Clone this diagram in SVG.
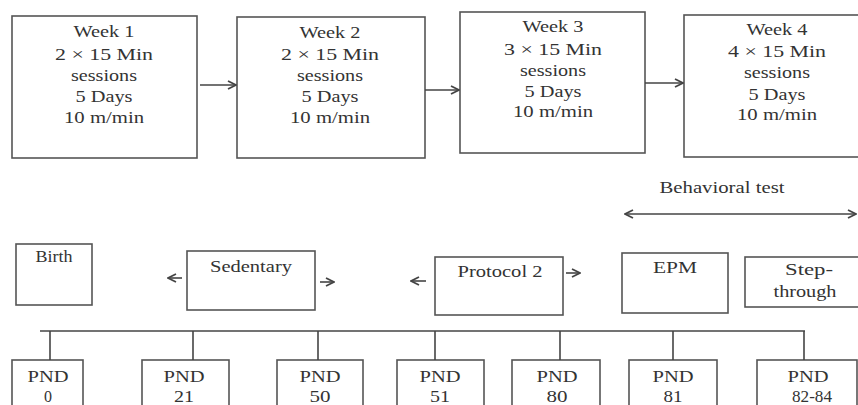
<svg xmlns="http://www.w3.org/2000/svg" width="858" height="405" viewBox="0 0 858 405">
<defs>
<style>
.box{fill:#fff;stroke:#555;stroke-width:1.6}
.t{font-family:"Liberation Serif","Times New Roman",serif;font-size:16px;fill:#333;text-anchor:middle}
.s{font-family:"Liberation Serif","Times New Roman",serif;font-size:16px;fill:#333;text-anchor:middle}
.ln{stroke:#444;stroke-width:1.6;fill:none}
</style>
<marker id="ah" viewBox="0 0 10 10" refX="9" refY="5" markerWidth="10" markerHeight="10" markerUnits="userSpaceOnUse" orient="auto-start-reverse">
<path d="M1,1 L9,5 L1,9" fill="none" stroke="#444" stroke-width="1.8"/>
</marker>
</defs>
<rect width="858" height="405" fill="#fff"/>
<g id="week1"><rect class="box" x="12" y="16" width="185" height="142"/>
<text class="t" x="104" y="37" textLength="61" lengthAdjust="spacingAndGlyphs">Week 1</text><text class="t" x="104" y="60" textLength="98" lengthAdjust="spacingAndGlyphs">2 × 15 Min</text><text class="t" x="104" y="81" textLength="66" lengthAdjust="spacingAndGlyphs">sessions</text><text class="t" x="104" y="102" textLength="57" lengthAdjust="spacingAndGlyphs">5 Days</text><text class="t" x="104" y="123" textLength="80" lengthAdjust="spacingAndGlyphs">10 m/min</text></g>
<g id="week2"><rect class="box" x="237" y="17" width="188" height="141"/>
<text class="t" x="330" y="38" textLength="61" lengthAdjust="spacingAndGlyphs">Week 2</text><text class="t" x="330" y="60" textLength="98" lengthAdjust="spacingAndGlyphs">2 × 15 Min</text><text class="t" x="330" y="81" textLength="66" lengthAdjust="spacingAndGlyphs">sessions</text><text class="t" x="330" y="102" textLength="57" lengthAdjust="spacingAndGlyphs">5 Days</text><text class="t" x="330" y="123" textLength="80" lengthAdjust="spacingAndGlyphs">10 m/min</text></g>
<g id="week3"><rect class="box" x="460" y="12" width="185" height="141"/>
<text class="t" x="553" y="32" textLength="61" lengthAdjust="spacingAndGlyphs">Week 3</text><text class="t" x="553" y="55" textLength="98" lengthAdjust="spacingAndGlyphs">3 × 15 Min</text><text class="t" x="553" y="76" textLength="66" lengthAdjust="spacingAndGlyphs">sessions</text><text class="t" x="553" y="97" textLength="57" lengthAdjust="spacingAndGlyphs">5 Days</text><text class="t" x="553" y="117" textLength="80" lengthAdjust="spacingAndGlyphs">10 m/min</text></g>
<g id="week4"><rect class="box" x="684" y="15" width="190" height="142"/>
<text class="t" x="777" y="35" textLength="61" lengthAdjust="spacingAndGlyphs">Week 4</text><text class="t" x="777" y="57" textLength="98" lengthAdjust="spacingAndGlyphs">4 × 15 Min</text><text class="t" x="777" y="78" textLength="66" lengthAdjust="spacingAndGlyphs">sessions</text><text class="t" x="777" y="100" textLength="57" lengthAdjust="spacingAndGlyphs">5 Days</text><text class="t" x="777" y="120" textLength="80" lengthAdjust="spacingAndGlyphs">10 m/min</text></g>
<g id="behavioral"><text class="s" x="722" y="193" font-size="14" textLength="125" lengthAdjust="spacingAndGlyphs">Behavioral test</text></g>
<g id="birth"><rect class="box" x="16" y="244" width="76" height="61"/><text class="s" x="54" y="262" font-size="14" textLength="37" lengthAdjust="spacingAndGlyphs">Birth</text></g>
<g id="sedentary"><rect class="box" x="187" y="251" width="128" height="59"/><text class="s" x="251" y="272" textLength="82" lengthAdjust="spacingAndGlyphs">Sedentary</text></g>
<g id="protocol2"><rect class="box" x="435" y="257" width="128" height="58"/><text class="s" x="500" y="277" textLength="85" lengthAdjust="spacingAndGlyphs">Protocol 2</text></g>
<g id="epm"><rect class="box" x="622" y="253" width="106" height="60"/><text class="s" x="675" y="273" textLength="44" lengthAdjust="spacingAndGlyphs">EPM</text></g>
<g id="stepthrough"><rect class="box" x="745" y="257" width="125" height="50"/><text class="s" x="809" y="275" textLength="48" lengthAdjust="spacingAndGlyphs">Step-</text><text class="s" x="805" y="297" textLength="63" lengthAdjust="spacingAndGlyphs">through</text></g>
<g id="pnd0"><rect class="box" x="12" y="360" width="71" height="60"/><text class="s" x="48" y="382" textLength="41" lengthAdjust="spacingAndGlyphs">PND</text><text class="s" x="48" y="402">0</text></g>
<g id="pnd21"><rect class="box" x="142" y="360" width="87" height="60"/><text class="s" x="184" y="382" textLength="41" lengthAdjust="spacingAndGlyphs">PND</text><text class="s" x="184" y="402" textLength="20" lengthAdjust="spacingAndGlyphs">21</text></g>
<g id="pnd50"><rect class="box" x="277" y="360" width="86" height="60"/><text class="s" x="320" y="382" textLength="41" lengthAdjust="spacingAndGlyphs">PND</text><text class="s" x="320" y="402" textLength="21" lengthAdjust="spacingAndGlyphs">50</text></g>
<g id="pnd51"><rect class="box" x="397" y="360" width="87" height="60"/><text class="s" x="440" y="382" textLength="41" lengthAdjust="spacingAndGlyphs">PND</text><text class="s" x="440" y="402" textLength="20" lengthAdjust="spacingAndGlyphs">51</text></g>
<g id="pnd80"><rect class="box" x="512" y="360" width="88" height="60"/><text class="s" x="557" y="382" textLength="41" lengthAdjust="spacingAndGlyphs">PND</text><text class="s" x="557" y="402" textLength="21" lengthAdjust="spacingAndGlyphs">80</text></g>
<g id="pnd81"><rect class="box" x="629" y="360" width="88" height="60"/><text class="s" x="673" y="382" textLength="41" lengthAdjust="spacingAndGlyphs">PND</text><text class="s" x="673" y="402" textLength="19" lengthAdjust="spacingAndGlyphs">81</text></g>
<g id="pnd8284"><rect class="box" x="757" y="360" width="100" height="60"/><text class="s" x="808" y="382" textLength="41" lengthAdjust="spacingAndGlyphs">PND</text><text class="s" x="812" y="402" textLength="40" lengthAdjust="spacingAndGlyphs">82-84</text></g>
<g id="connectors">
<line class="ln" x1="200" y1="85" x2="236" y2="85" marker-end="url(#ah)"/>
<line class="ln" x1="425" y1="90" x2="459" y2="90" marker-end="url(#ah)"/>
<line class="ln" x1="645" y1="83" x2="683" y2="83" marker-end="url(#ah)"/>
<line class="ln" x1="625" y1="214" x2="856" y2="214" marker-start="url(#ah)" marker-end="url(#ah)"/>
<line class="ln" x1="168" y1="278" x2="182" y2="278" marker-start="url(#ah)"/>
<line class="ln" x1="320" y1="282" x2="334" y2="282" marker-end="url(#ah)"/>
<line class="ln" x1="411" y1="281" x2="426" y2="281" marker-start="url(#ah)"/>
<line class="ln" x1="566" y1="273" x2="580" y2="273" marker-end="url(#ah)"/>
<line class="ln" x1="40" y1="331" x2="805" y2="331"/>
<line class="ln" x1="50" y1="331" x2="50" y2="360"/>
<line class="ln" x1="193" y1="331" x2="193" y2="360"/>
<line class="ln" x1="318" y1="331" x2="318" y2="360"/>
<line class="ln" x1="435" y1="331" x2="435" y2="360"/>
<line class="ln" x1="560" y1="331" x2="560" y2="360"/>
<line class="ln" x1="673" y1="331" x2="673" y2="360"/>
<line class="ln" x1="804" y1="331" x2="804" y2="360"/>
</g>
</svg>
